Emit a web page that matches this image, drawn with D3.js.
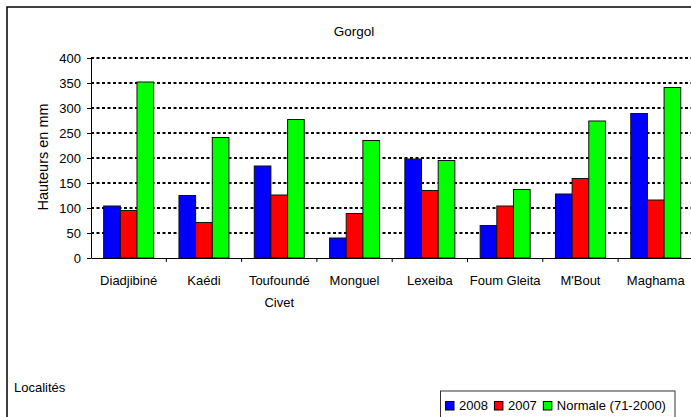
<!DOCTYPE html>
<html>
<head>
<meta charset="utf-8">
<script src="https://cdn.jsdelivr.net/npm/d3@7"></script>
<style>
  body { margin: 0; background: #fff; }
  svg { display: block; font-family: "Liberation Sans", Arial, sans-serif; }
</style>
</head>
<body>
<svg id="chart" width="691" height="417"></svg>
<script>
var categories = ["Diadjibiné", "Kaédi", "Toufoundé Civet", "Monguel", "Lexeiba", "Foum Gleita", "M'Bout", "Maghama"];
var seriesNames = ["2008", "2007", "Normale (71-2000)"];
var values2008 = [104, 125, 184, 40, 198, 65, 128, 289];
var values2007 = [95, 71, 126, 89, 135, 104, 159, 116];
var valuesNormale = [352, 241, 277, 235, 195, 137, 274, 341];
var yTicks = [0, 50, 100, 150, 200, 250, 300, 350, 400];
var colors = ["#0000ff", "#ff0000", "#00ff00"];

var seriesValues = [values2008, values2007, valuesNormale];

var svg = d3.select("#chart");

var plotLeft = 91, plotRight = 693.4, plotTop = 58, plotBottom = 258;

// outer frame (right and bottom edges fall outside the window)
svg.append("rect")
    .attr("x", 7).attr("y", 7)
    .attr("width", 720).attr("height", 440)
    .attr("fill", "#fff")
    .attr("stroke", "#000")
    .attr("stroke-width", 1.5);

var x = d3.scaleBand()
    .domain(categories)
    .range([plotLeft, plotRight]);

var xInner = d3.scaleBand()
    .domain(seriesNames)
    .range([x.bandwidth() * 0.168, x.bandwidth() * 0.832]);

var y = d3.scaleLinear()
    .domain([0, 400])
    .range([plotBottom, plotTop]);

// dotted gridlines
svg.append("g")
  .selectAll("line")
    .data(yTicks.filter(function(d) { return d > 0; }))
  .enter().append("line")
    .attr("x1", plotLeft)
    .attr("x2", plotRight)
    .attr("y1", function(d) { return y(d); })
    .attr("y2", function(d) { return y(d); })
    .attr("stroke", "#000")
    .attr("stroke-width", 2)
    .attr("stroke-dasharray", "3,2.5");

// bars
var group = svg.append("g")
  .selectAll("g")
    .data(categories)
  .enter().append("g")
    .attr("transform", function(d) { return "translate(" + x(d) + ",0)"; });

group.selectAll("rect")
    .data(function(d, i) {
      return seriesNames.map(function(s, j) { return { series: s, value: seriesValues[j][i], color: colors[j] }; });
    })
  .enter().append("rect")
    .attr("x", function(d) { return xInner(d.series); })
    .attr("width", xInner.bandwidth())
    .attr("y", function(d) { return y(d.value); })
    .attr("height", function(d) { return y(0) - y(d.value); })
    .attr("fill", function(d) { return d.color; })
    .attr("stroke", "#111")
    .attr("stroke-width", 1);

// y axis
var yAxis = svg.append("g")
    .attr("transform", "translate(" + plotLeft + ",0)")
    .call(d3.axisLeft(y).tickValues(yTicks).tickSize(4).tickPadding(6).tickSizeOuter(0));
yAxis.selectAll("text").attr("font-size", 13).attr("fill", "#000").attr("font-family", null);
yAxis.selectAll("line, path").attr("stroke", "#000");

// x axis: labels at band centres, ticks at band boundaries
var xAxis = svg.append("g")
    .attr("transform", "translate(0," + plotBottom + ")")
    .call(d3.axisBottom(x).tickSize(0).tickPadding(18).tickSizeOuter(0));
xAxis.select("path").attr("stroke", "#000");
xAxis.selectAll("text")
    .attr("font-size", 13)
    .attr("fill", "#000")
    .attr("font-family", null)
    .call(wrap, x.bandwidth() - 4);

xAxis.selectAll(".boundary")
    .data(categories.slice(1).concat(["end"]))
  .enter().append("line")
    .attr("class", "boundary")
    .attr("x1", function(d, i) { return x(categories[0]) + (i + 1) * x.bandwidth(); })
    .attr("x2", function(d, i) { return x(categories[0]) + (i + 1) * x.bandwidth(); })
    .attr("y1", 0)
    .attr("y2", 4)
    .attr("stroke", "#000");

function wrap(texts, width) {
  texts.each(function() {
    var text = d3.select(this);
    var words = text.text().split(" ");
    if (this.getComputedTextLength() <= width || words.length < 2) return;
    var yPos = text.attr("y"), dy = parseFloat(text.attr("dy"));
    text.text(null);
    words.forEach(function(w, i) {
      text.append("tspan")
          .attr("x", 0)
          .attr("y", yPos)
          .attr("dy", (dy + i * 1.7) + "em")
          .text(w);
    });
  });
}

// titles
svg.append("text")
    .attr("x", 354).attr("y", 36)
    .attr("text-anchor", "middle")
    .attr("font-size", 13.5)
    .text("Gorgol");

svg.append("text")
    .attr("transform", "translate(48,157) rotate(-90)")
    .attr("text-anchor", "middle")
    .attr("font-size", 14.5)
    .text("Hauteurs en mm");

svg.append("text")
    .attr("x", 14).attr("y", 392)
    .attr("font-size", 13)
    .text("Localités");

// legend
var legend = svg.append("g").attr("transform", "translate(440.5,391)");
legend.append("rect")
    .attr("width", 234.5).attr("height", 40)
    .attr("fill", "#fff")
    .attr("stroke", "#333")
    .attr("stroke-width", 1);

var lx = 5;
seriesNames.forEach(function(s, i) {
  legend.append("rect")
      .attr("x", lx).attr("y", 10.5)
      .attr("width", 8.5).attr("height", 8.5)
      .attr("fill", colors[i])
      .attr("stroke", "#000");
  var t = legend.append("text")
      .attr("x", lx + 13.5).attr("y", 19)
      .attr("font-size", 13)
      .text(s);
  lx += 13.5 + t.node().getComputedTextLength() + 6.5;
});
</script>
</body>
</html>
